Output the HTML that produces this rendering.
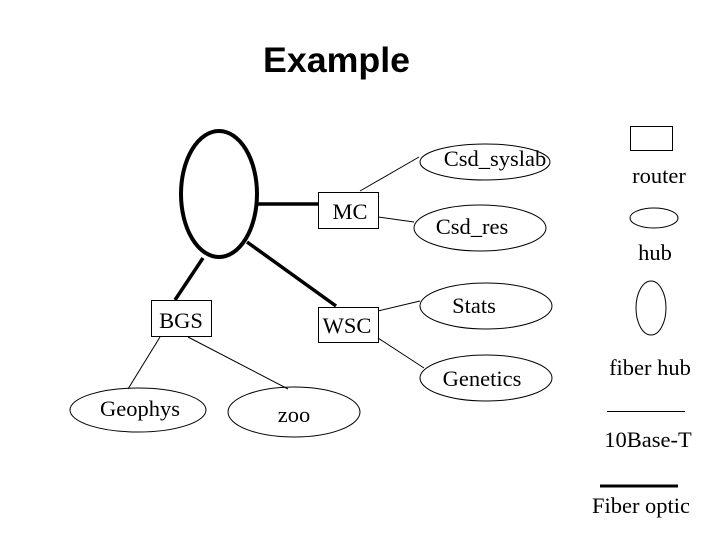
<!DOCTYPE html>
<html><head><style>html,body{margin:0;padding:0;background:#fff}svg{display:block}</style></head>
<body>
<svg width="720" height="540" viewBox="0 0 720 540" xmlns="http://www.w3.org/2000/svg">
<text x="263" y="72" font-family="Liberation Sans, sans-serif" font-weight="bold" font-size="35" textLength="147" lengthAdjust="spacingAndGlyphs">Example</text>
<g fill="none" stroke="#000">
<ellipse cx="219" cy="194" rx="38" ry="63" stroke-width="4"/>
<line x1="258" y1="204" x2="318" y2="204" stroke-width="3.5"/>
<line x1="175" y1="300" x2="203" y2="258" stroke-width="3.5"/>
<line x1="247" y1="242" x2="336" y2="306" stroke-width="3.5"/>
<g stroke-width="1">
<rect x="318.5" y="192.5" width="60" height="36"/>
<rect x="151.5" y="300.5" width="60" height="36"/>
<rect x="318.5" y="307.5" width="60" height="35"/>
<ellipse cx="485" cy="162" rx="65" ry="18"/>
<ellipse cx="480" cy="228" rx="66" ry="23"/>
<ellipse cx="486" cy="306" rx="66" ry="23"/>
<ellipse cx="486" cy="378" rx="66" ry="23"/>
<ellipse cx="294" cy="412" rx="66" ry="25"/>
<ellipse cx="138" cy="410" rx="68" ry="22"/>
<line x1="360" y1="191" x2="419" y2="157"/>
<line x1="378" y1="217" x2="414" y2="222"/>
<line x1="378" y1="311" x2="420" y2="301"/>
<line x1="378" y1="338" x2="424" y2="368"/>
<line x1="188" y1="337" x2="288" y2="389"/>
<line x1="160" y1="337" x2="128" y2="389"/>
<rect x="630.5" y="126.5" width="42" height="24"/>
<ellipse cx="654" cy="218" rx="24" ry="10"/>
<ellipse cx="651" cy="308" rx="15" ry="27"/>
<line x1="607" y1="411.5" x2="685" y2="411.5"/>
</g>
<line x1="600" y1="486" x2="678" y2="486" stroke-width="3"/>
</g>
<g font-family="Liberation Serif, serif" font-size="22.5" fill="#000" text-anchor="middle">
<text x="350" y="219">MC</text>
<text x="181" y="328">BGS</text>
<text x="347" y="333">WSC</text>
<text x="495" y="166">Csd_syslab</text>
<text x="472" y="234">Csd_res</text>
<text x="474" y="313">Stats</text>
<text x="482" y="386">Genetics</text>
<text x="294" y="422">zoo</text>
<text x="140" y="416">Geophys</text>
<text x="659" y="183">router</text>
<text x="655" y="260">hub</text>
<text x="650" y="375">fiber hub</text>
<text x="648" y="447">10Base-T</text>
<text x="641" y="513">Fiber optic</text>
</g>
</svg>
</body></html>
